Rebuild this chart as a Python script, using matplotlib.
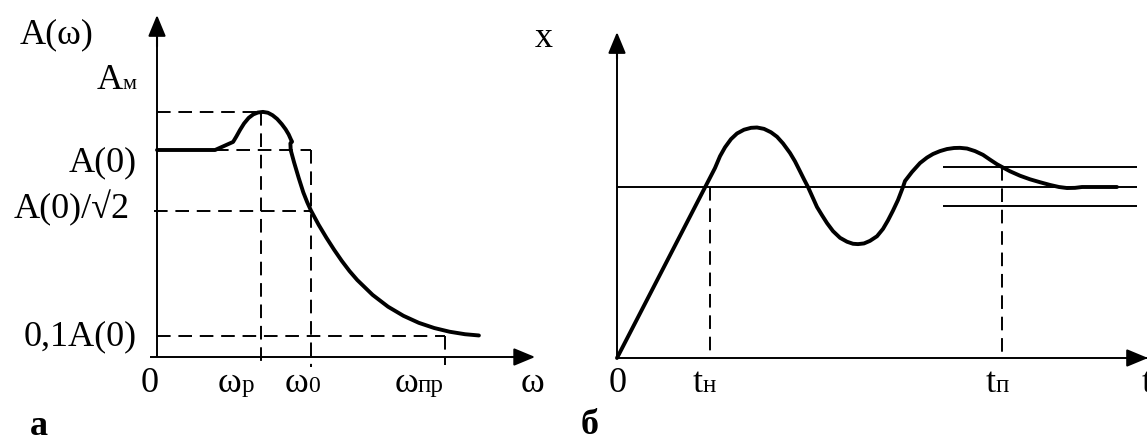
import numpy as np
import matplotlib
matplotlib.use("Agg")
import matplotlib.pyplot as plt
from matplotlib.offsetbox import TextArea, HPacker, AnnotationBbox

plt.rcParams["font.family"] = ["Liberation Serif", "DejaVu Serif"]

# --- а: amplitude-frequency response ---
w_p, w_0, w_pr = 0.675, 1.0, 1.87
A_0 = 1.0
A_m = 1.184
A_half = A_0 / np.sqrt(2)
A_01 = 0.1 * A_0

afc_w = [0.0, 0.377, 0.494, 0.515, 0.539, 0.565, 0.595, 0.625, 0.655, 0.688,
         0.72, 0.75, 0.78, 0.81, 0.835, 0.855, 0.870, 0.877, 0.866, 0.868,
         0.89, 0.92, 0.95, 0.975, 1.0, 1.05, 1.10, 1.15, 1.20, 1.25,
         1.30, 1.40, 1.50, 1.60, 1.70, 1.80, 1.90, 2.00, 2.09]
afc_A = [1.0, 1.0, 1.039, 1.065, 1.097, 1.128, 1.155, 1.172, 1.181, 1.184,
         1.180, 1.168, 1.150, 1.125, 1.100, 1.075, 1.050, 1.040, 1.032, 1.0,
         0.940, 0.865, 0.795, 0.748, 0.707, 0.638, 0.576, 0.518, 0.464, 0.415,
         0.372, 0.300, 0.243, 0.199, 0.165, 0.140, 0.122, 0.110, 0.104]

# --- б: transient response ---
t_n, t_p = 0.93, 3.85
x_ss = 1.0
x_hi, x_lo = 1.117, 0.889
band_t = [3.26, 5.20]

tr_t = [0.0, 0.98, 1.03, 1.08, 1.14, 1.20, 1.27, 1.34, 1.40, 1.47,
        1.54, 1.60, 1.66, 1.73, 1.78, 1.83, 1.87, 1.91, 1.96, 2.00,
        2.05, 2.10, 2.16, 2.23, 2.30, 2.36, 2.41, 2.47, 2.53, 2.60,
        2.66, 2.71, 2.76, 2.81, 2.86, 2.88, 2.95, 3.03, 3.10, 3.16,
        3.23, 3.30, 3.37, 3.43, 3.50, 3.58, 3.66, 3.73, 3.80, 3.85,
        3.93, 4.03, 4.13, 4.23, 4.33, 4.42, 4.50, 4.58, 4.65, 5.00]
tr_x = [0.0, 1.111, 1.180, 1.232, 1.280, 1.313, 1.335, 1.346, 1.348, 1.340,
        1.320, 1.294, 1.255, 1.199, 1.150, 1.092, 1.045, 1.000, 0.935, 0.883,
        0.835, 0.789, 0.742, 0.703, 0.680, 0.668, 0.666, 0.670, 0.685, 0.712,
        0.755, 0.805, 0.862, 0.924, 1.000, 1.035, 1.088, 1.140, 1.172, 1.193,
        1.210, 1.222, 1.228, 1.229, 1.225, 1.210, 1.188, 1.160, 1.133, 1.117,
        1.092, 1.066, 1.045, 1.028, 1.012, 1.000, 0.994, 0.995, 1.0, 1.0]

W, H = 1147, 441
fig = plt.figure(figsize=(W / 100, H / 100), dpi=100)
axl = fig.add_axes([0, 0, 573 / W, 1])
axr = fig.add_axes([573 / W, 0, 574 / W, 1])
axl.set_xlim(-1.0195, 2.701)
axl.set_ylim(-0.4058, 1.7246)
axr.set_xlim(-0.44, 5.30)
axr.set_ylim(-0.4854, 2.0936)
for ax in (axl, axr):
    ax.axis("off")

BIG, SMALL, MID = 26, 16, 18
dash = dict(color="black", lw=1.4, ls=(0, (7, 4)), dash_capstyle="butt")
thin = dict(color="black", lw=1.4, solid_capstyle="butt")
thick = dict(color="black", lw=2.8, solid_capstyle="round", solid_joinstyle="round")


def arrow(ax, start, tip):
    ax.annotate("", xy=tip, xytext=start,
                arrowprops=dict(arrowstyle="-|>,head_length=0.65,head_width=0.27",
                                lw=1.5, color="black", mutation_scale=20,
                                shrinkA=0, shrinkB=0),
                annotation_clip=False)


def label(ax, xy, parts, align=(0.5, 0.5), weight="normal"):
    boxes = [TextArea(s, textprops=dict(fontsize=fs, fontweight=weight, color="black"))
             for s, fs in parts]
    pack = HPacker(children=boxes, align="baseline", pad=0, sep=0)
    ab = AnnotationBbox(pack, xy, xycoords="data", frameon=False,
                        box_alignment=align, pad=0, annotation_clip=False)
    ax.add_artist(ab)


# left panel axes
axl.plot([-0.045, 2.35], [0, 0], **thin)
axl.plot([0, 0], [0, 1.55], **thin)
arrow(axl, (2.30, 0), (2.455, 0))
arrow(axl, (0, 1.50), (0, 1.652))

# guide lines
axl.plot([0, w_p], [A_m, A_m], **dash)
axl.plot([w_p, w_p], [A_m, -0.048], **dash)
axl.plot([afc_w[1], w_0], [A_0, A_0], **dash)
axl.plot([w_0, w_0], [A_0, -0.048], **dash)
axl.plot([-0.02, w_0], [A_half, A_half], **dash)
axl.plot([0, w_pr], [A_01, A_01], **dash)
axl.plot([w_pr, w_pr], [A_01, -0.04], **dash)

axl.plot(afc_w, afc_A, **thick)

label(axl, (-0.890, 1.556), [("A(ω)", BIG)], align=(0, 0.5))
label(axl, (-0.130, 1.338), [("A", BIG), ("м", SMALL)], align=(1, 0.5))
label(axl, (-0.130, 0.937), [("A(0)", BIG)], align=(1, 0.5))
label(axl, (-0.175, 0.720), [("A(0)/√2", BIG)], align=(1, 0.5))
label(axl, (-0.130, 0.097), [("0,1A(0)", BIG)], align=(1, 0.5))
label(axl, (-0.045, -0.13), [("0", BIG)])
label(axl, (0.513, -0.13), [("ω", BIG), ("р", MID)])
label(axl, (0.942, -0.13), [("ω", BIG), ("0", 17)])
label(axl, (1.701, -0.13), [("ω", BIG), ("пр", MID)])
label(axl, (2.435, -0.13), [("ω", BIG)])
label(axl, (-0.766, -0.338), [("а", BIG)], weight="bold")

# right panel axes
axr.plot([0, 5.4], [0, 0], **thin)
axr.plot([0, 0], [0, 1.80], **thin)
arrow(axr, (5.15, 0), (5.31, 0))
arrow(axr, (0, 1.75), (0, 1.906))

axr.plot([0, band_t[1]], [x_ss, x_ss], **thin)
axr.plot(band_t, [x_hi, x_hi], **thin)
axr.plot(band_t, [x_lo, x_lo], **thin)
axr.plot([t_n, t_n], [x_ss, 0], **dash)
axr.plot([t_p, t_p], [x_hi, 0], **dash)

axr.plot(tr_t, tr_x, **thick)

label(axr, (-0.73, 1.871), [("x", BIG)])
label(axr, (0.01, -0.152), [("0", BIG)])
label(axr, (0.87, -0.152), [("t", BIG), ("н", MID)])
label(axr, (3.80, -0.152), [("t", BIG), ("п", MID)])
label(axr, (5.25, -0.152), [("t", BIG)], align=(0, 0.5))
label(axr, (-0.27, -0.392), [("б", BIG)], weight="bold")

fig.savefig("out.png", dpi=100)
